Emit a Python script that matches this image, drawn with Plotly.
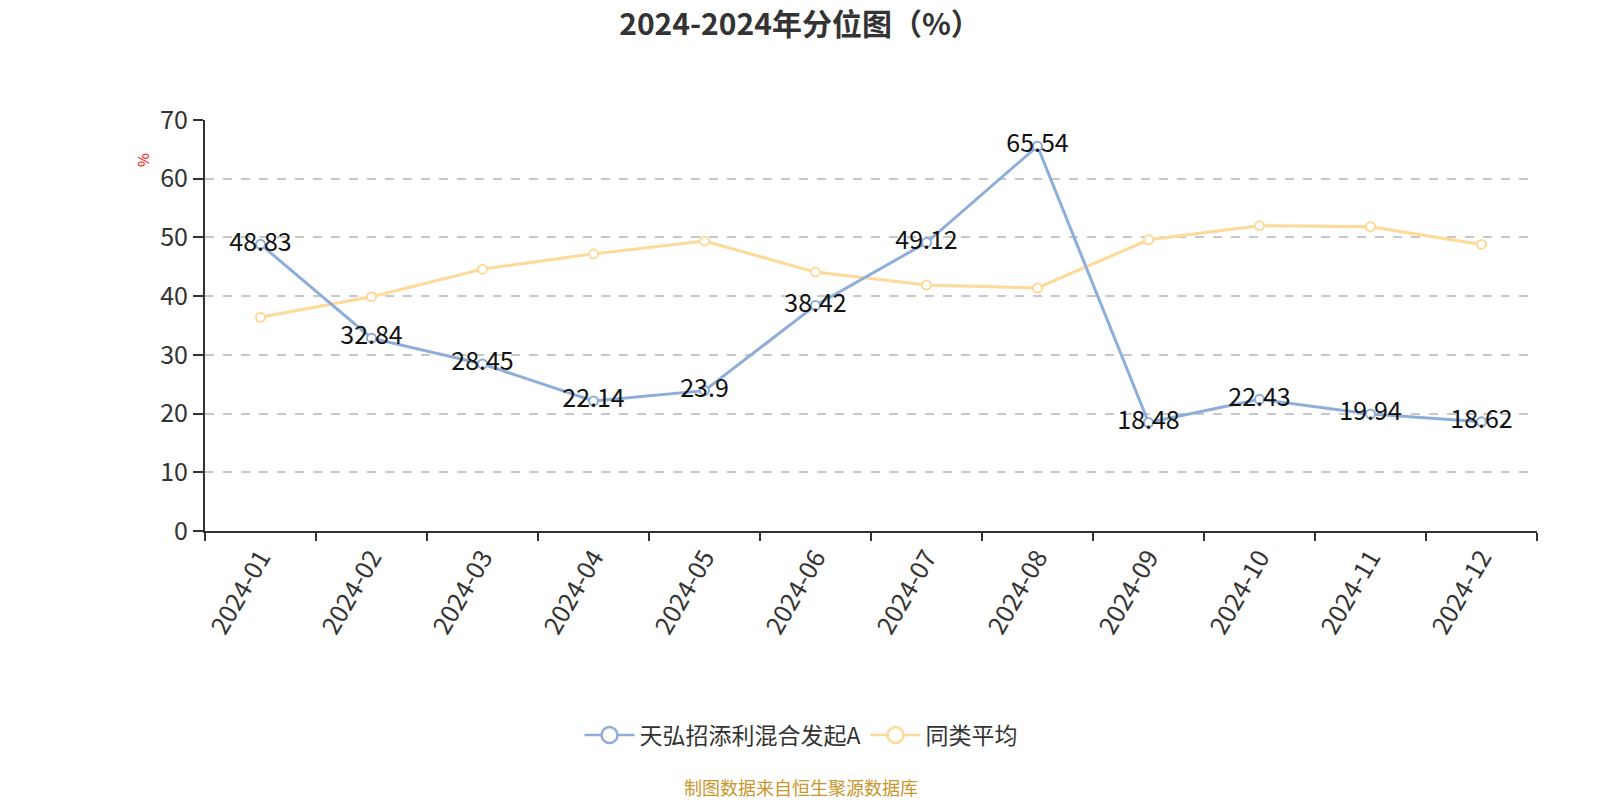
import plotly.graph_objects as go

months = ["2024-01", "2024-02", "2024-03", "2024-04", "2024-05", "2024-06",
          "2024-07", "2024-08", "2024-09", "2024-10", "2024-11", "2024-12"]
fund_name = "天弘招添利混合发起A"
fund_values = [48.83, 32.84, 28.45, 22.14, 23.9, 38.42, 49.12, 65.54, 18.48, 22.43, 19.94, 18.62]
avg_name = "同类平均"
avg_values = [36.4, 39.9, 44.6, 47.2, 49.4, 44.1, 41.9, 41.4, 49.6, 52.0, 51.8, 48.8]
y_ticks = [0, 10, 20, 30, 40, 50, 60, 70]

FONT = "Noto Sans CJK SC"
BLUE = "rgb(141,174,218)"
YELLOW = "rgb(254,217,152)"

fig = go.Figure()
# data traces (average drawn first so the fund line lies on top)
fig.add_trace(go.Scatter(
    x=months, y=avg_values, name=avg_name, mode="lines+markers",
    line=dict(color=YELLOW, width=3),
    marker=dict(symbol="circle", size=9, color="white", line=dict(color=YELLOW, width=2)),
    showlegend=False,
))
fig.add_trace(go.Scatter(
    x=months, y=fund_values, name=fund_name, mode="lines+markers+text",
    text=[f"{v:g}" for v in fund_values], textposition="middle center",
    textfont=dict(family=FONT, size=25, color="#111"),
    line=dict(color=BLUE, width=3),
    marker=dict(symbol="circle", size=9, color="white", line=dict(color=BLUE, width=2)),
    showlegend=False,
))
# legend entries with the larger hollow-circle symbol
for nm, col in [(fund_name, BLUE), (avg_name, YELLOW)]:
    fig.add_trace(go.Scatter(
        x=[None], y=[None], name=nm, mode="lines+markers",
        line=dict(color=col, width=2.5),
        marker=dict(symbol="circle", size=17, color="white", line=dict(color=col, width=2.5)),
        showlegend=True,
    ))

CENTER_X = (801 - 205) / 1332

fig.update_layout(
    width=1600, height=800,
    paper_bgcolor="white", plot_bgcolor="white",
    margin=dict(l=205, r=63, t=120, b=269),
    font=dict(family=FONT, color="#333"),
    title=dict(text="<b>2024-2024年分位图（%）</b>", x=0.5, xanchor="center",
               y=1 - 24 / 800, yanchor="middle",
               font=dict(family=FONT, size=30, color="#333")),
    showlegend=True,
    legend=dict(orientation="h", x=CENTER_X, xanchor="center", y=(531 - 735) / 411, yanchor="middle",
                font=dict(family=FONT, size=23, color="#333"), itemwidth=50,
                traceorder="normal"),
    xaxis=dict(
        type="category", range=[-0.5, 11.5], tickson="boundaries",
        ticks="outside", ticklen=8, tickwidth=2, tickcolor="#333",
        showline=True, linecolor="#333", linewidth=2,
        showgrid=False, tickangle=-60,
        tickfont=dict(family=FONT, size=25, color="#333"),
    ),
    yaxis=dict(
        range=[0, 70], tickvals=y_ticks,
        ticks="outside", ticklen=10, tickwidth=2, tickcolor="#333",
        showline=True, linecolor="#333", linewidth=2,
        showgrid=True, gridcolor="#c8c8c8", gridwidth=1.5, griddash="dash",
        zeroline=False,
        tickfont=dict(family=FONT, size=25, color="#333"),
    ),
    annotations=[
        dict(text="%", xref="paper", yref="paper", x=-63 / 1332, y=(531 - 160) / 411,
             xanchor="center", yanchor="middle",
             showarrow=False, textangle=-90, font=dict(family=FONT, size=15, color="red")),
        dict(text="制图数据来自恒生聚源数据库", xref="paper", yref="paper", x=CENTER_X,
             y=(531 - 787) / 411, xanchor="center", yanchor="middle", showarrow=False,
             font=dict(family=FONT, size=18, color="#c9952c")),
    ],
)

fig.write_html("out.html", config={"displayModeBar": False},
               post_script="document.body.style.margin='0';")
